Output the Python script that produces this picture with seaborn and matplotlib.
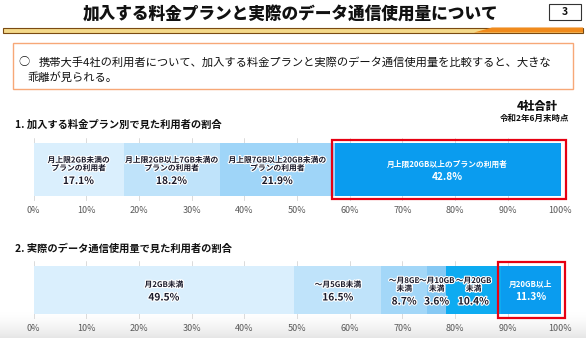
import numpy as np
import pandas as pd
import matplotlib
matplotlib.use("Agg")
import matplotlib.pyplot as plt
import matplotlib.patheffects as pe
from matplotlib.patches import Rectangle, Polygon
from matplotlib.transforms import blended_transform_factory
import seaborn as sns

# ---------------- data ----------------
title_text = "加入する料金プランと実際のデータ通信使用量について"
page_no = "3"
summary_line1 = "携帯大手4社の利用者について、加入する料金プランと実際のデータ通信使用量を比較すると、大きな"
summary_line2 = "乖離が見られる。"
scope_label = "4社合計"
date_label = "令和2年6月末時点"

plan_title = "1. 加入する料金プラン別で見た利用者の割合"
plan_categories = ["月上限2GB未満の\nプランの利用者",
                   "月上限2GB以上7GB未満の\nプランの利用者",
                   "月上限7GB以上20GB未満の\nプランの利用者",
                   "月上限20GB以上のプランの利用者"]
plan_shares = [17.1, 18.2, 21.9, 42.8]

usage_title = "2. 実際のデータ通信使用量で見た利用者の割合"
usage_categories = ["月2GB未満",
                    "～月5GB未満",
                    "～月8GB\n未満",
                    "～月10GB\n未満",
                    "～月20GB\n未満",
                    "月20GB以上"]
usage_shares = [49.5, 16.5, 8.7, 3.6, 10.4, 11.3]

tick_values = [0, 10, 20, 30, 40, 50, 60, 70, 80, 90, 100]
tick_labels = [f"{v}%" for v in tick_values]

plan_colors = ["#daeffd", "#bfe3fa", "#9fd5f8", "#0a9cef"]
usage_colors = ["#daeffd", "#bfe3fa", "#a3d7f8", "#86c9f4", "#0dabf1", "#0a9cef"]

# ---------------- style ----------------
sns.set_theme(style="white")
plt.rcParams["font.family"] = ["Noto Sans CJK JP", "DejaVu Sans"]

W, H = 586, 338
fig = plt.figure(figsize=(W / 100, H / 100), dpi=100)
fig.patch.set_facecolor("white")


def fx(px):
    return px / W


def fy(py):
    return 1 - py / H


# subtle grey shade at bottom
bg = fig.add_axes([0, 0, 1, fy(312)], zorder=-5)
grad = np.linspace(0, 1, 100)[:, None] ** 1.5
bg.imshow(grad, aspect="auto", cmap=matplotlib.colors.LinearSegmentedColormap.from_list(
    "g", ["#ffffff", "#e6e6e6"]), extent=[0, 1, 0, 1], origin="upper")
bg.set_axis_off()

# ---------------- header ----------------
fig.text(fx(291), fy(15), title_text, ha="center", va="center",
         fontsize=12, fontweight="heavy", color="#111111")
fig.patches.append(Rectangle((fx(549), fy(20)), fx(32), 16 / H, transform=fig.transFigure,
                             facecolor="white", edgecolor="#333333", lw=0.8))
fig.text(fx(565), fy(12), page_no, ha="center", va="center", fontsize=7.5,
         fontweight="bold", color="#111111")
# header rule
fig.patches.append(Rectangle((fx(3), fy(32.5)), fx(580), 5 / H, transform=fig.transFigure,
                             facecolor="#f4d98a", edgecolor="#7a4a12", lw=0.8))
fig.patches.append(Polygon([(fx(474), fy(32.5)), (fx(492), fy(27.5)), (fx(583), fy(27.5)),
                            (fx(583), fy(32.5))], closed=True, transform=fig.transFigure,
                           facecolor="#f08a1c", edgecolor="none"))

# summary box
fig.patches.append(Rectangle((fx(13), fy(89)), fx(560), 46 / H, transform=fig.transFigure,
                             facecolor="white", edgecolor="#f7a877", lw=1.0))
fig.text(fx(18), fy(62), "○", ha="left", va="center", fontsize=8, color="#111111")
fig.text(fx(39), fy(62), summary_line1, ha="left", va="center", fontsize=8.1, color="#111111")
fig.text(fx(27), fy(77), summary_line2, ha="left", va="center", fontsize=8.1, color="#111111")

fig.text(fx(558), fy(106), scope_label, ha="right", va="center", fontsize=8.2,
         fontweight="heavy", color="#111111")
fig.text(fx(569), fy(118), date_label, ha="right", va="center", fontsize=6.1,
         fontweight="bold", color="#111111")

fig.text(fx(15), fy(125), plan_title, ha="left", va="center", fontsize=7.4,
         fontweight="bold", color="#111111")
fig.text(fx(15), fy(249), usage_title, ha="left", va="center", fontsize=7.4,
         fontweight="bold", color="#111111")


def stacked_bar(top_px, bottom_px, bar_frac, categories, shares, colors, box_pad):
    ax = fig.add_axes([fx(33.5), fy(bottom_px), fx(527), (bottom_px - top_px) / H])
    ax.patch.set_alpha(0)
    cum = np.cumsum(shares)
    df = pd.DataFrame({"chart": ["all"] * len(shares), "segment": categories, "cum": cum})
    pal = dict(zip(categories, colors))
    ax.grid(axis="x", color="#d5d5d5", lw=0.6)
    ax.set_axisbelow(True)
    sns.barplot(data=df, x="cum", y="chart", hue="segment", hue_order=categories[::-1],
                palette=pal, dodge=False, width=bar_frac, saturation=1, errorbar=None,
                orient="h", legend=False, ax=ax, zorder=2, edgecolor="none", linewidth=0)
    ax.set_xlim(0, 100)
    ax.set_ylim(0.5, -0.5)
    ax.set_xticks(tick_values)
    ax.set_xticklabels(tick_labels)
    ax.set_yticks([])
    ax.set_xlabel("")
    ax.set_ylabel("")
    for s in ax.spines.values():
        s.set_visible(False)
    ax.tick_params(axis="x", length=0, pad=3.5, labelsize=6.5, labelcolor="#595959")
    ax.xaxis.grid(True)

    ah = bottom_px - top_px
    trans = blended_transform_factory(ax.transData, ax.transAxes)
    starts = cum - np.array(shares)
    for i, (cat, val) in enumerate(zip(categories, shares)):
        xc = starts[i] + val / 2
        lines = cat.split("\n")
        n = len(lines)
        pos = [k * 8 for k in range(n)] + [(n - 1) * 8 + 13]
        mid = pos[-1] / 2
        last = i == len(shares) - 1
        col = "white" if last else "#1b1b2b"
        eff = [] if last else [pe.withStroke(linewidth=1.6, foreground="white")]
        for k, p in enumerate(pos):
            dy = 1 + p - mid
            yf = 0.5 - dy / ah
            if k < n:
                ax.text(xc, yf, lines[k], transform=trans, ha="center", va="center",
                        fontsize=5.6, fontweight="bold", color=col, path_effects=eff, zorder=5)
            else:
                ax.text(xc, yf, f"{val}%", transform=trans, ha="center", va="center",
                        fontsize=7.3, fontweight="bold", color=col, path_effects=eff, zorder=5)
    # red highlight box around the last segment
    x0 = starts[-1] - box_pad[0]
    x1 = 100 + box_pad[1]
    ax.add_patch(Rectangle((x0, box_pad[2]), x1 - x0, 1 - 2 * box_pad[2], transform=trans,
                           facecolor="none", edgecolor="#e60012", lw=1.6, clip_on=False,
                           zorder=6))
    return ax


stacked_bar(138, 201, 0.84, plan_categories, plan_shares, plan_colors, (0.6, 1.0, 0.032))
stacked_bar(261, 319, 0.83, usage_categories, usage_shares, usage_colors, (0.6, 0.8, 0.017))

fig.savefig("out.png", dpi=100)
